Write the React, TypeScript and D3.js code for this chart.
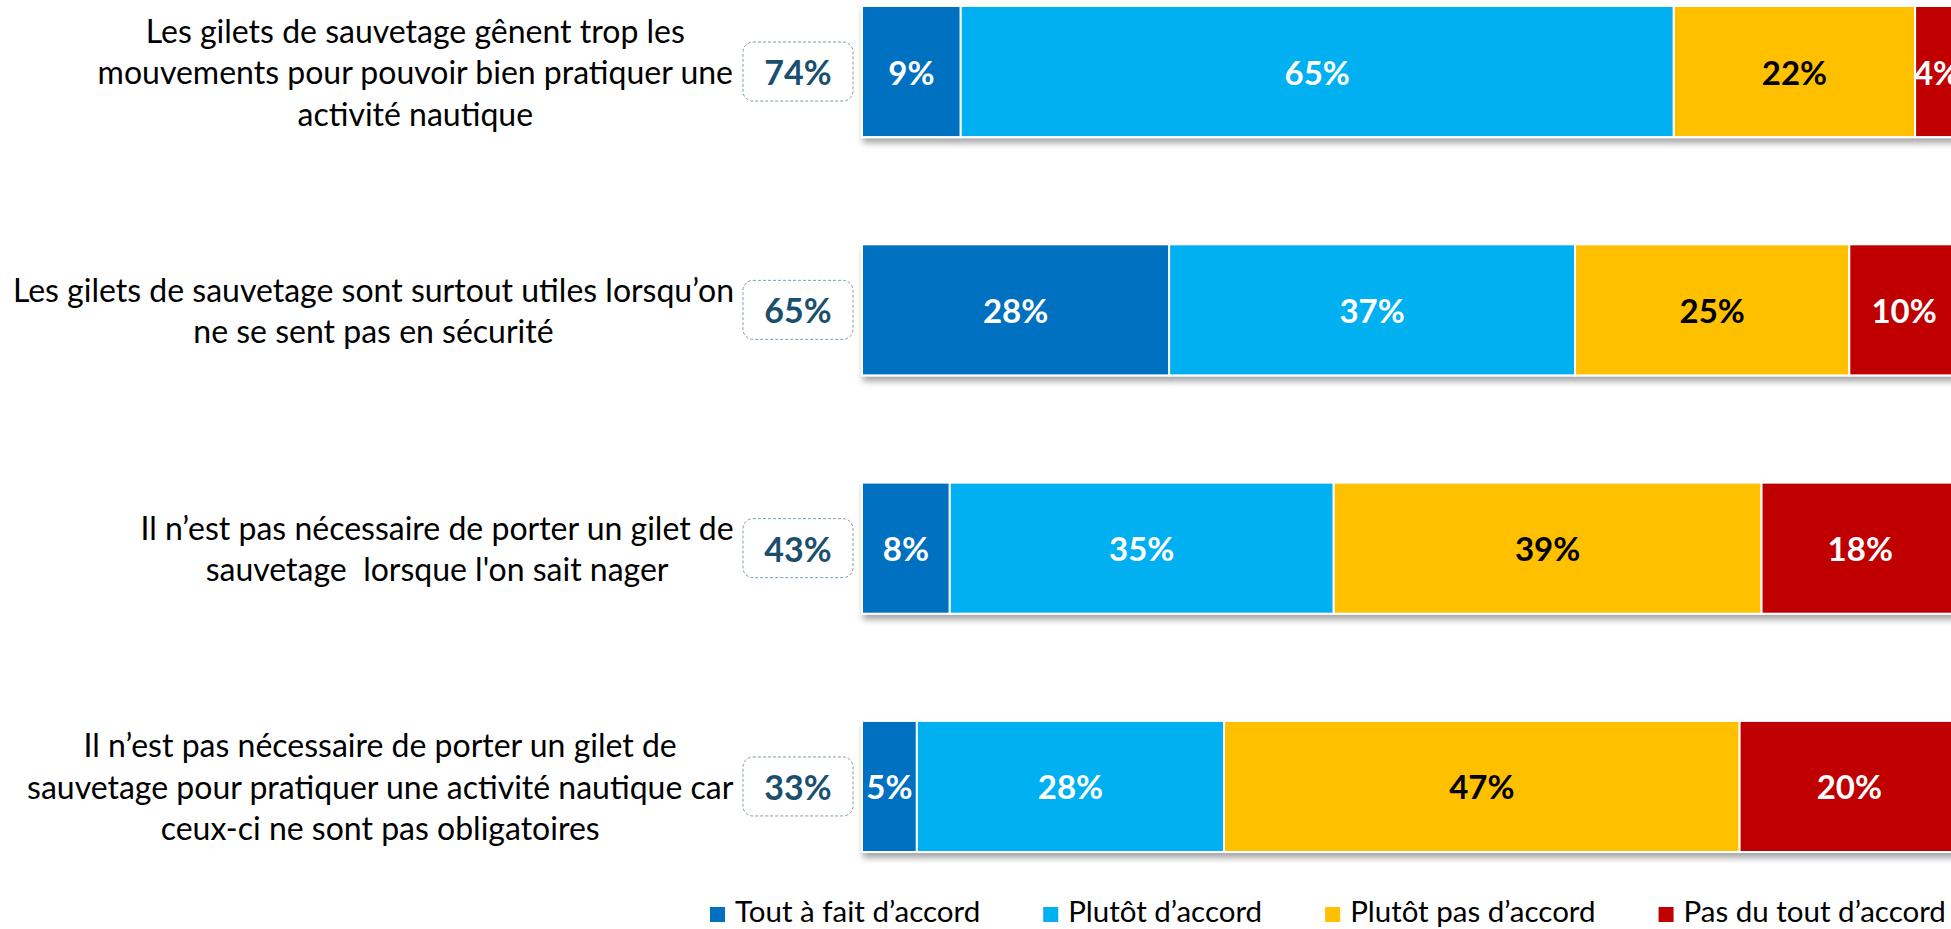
import React, { useMemo } from "react";
import * as d3 from "d3";

const questions = [
  ["Les gilets de sauvetage gênent trop les", "mouvements pour pouvoir bien pratiquer une", "activité nautique"],
  ["Les gilets de sauvetage sont surtout utiles lorsqu’on", "ne se sent pas en sécurité"],
  ["Il n’est pas nécessaire de porter un gilet de", "sauvetage  lorsque l'on sait nager"],
  ["Il n’est pas nécessaire de porter un gilet de", "sauvetage pour pratiquer une activité nautique car", "ceux-ci ne sont pas obligatoires"],
];
const series = ["Tout à fait d’accord", "Plutôt d’accord", "Plutôt pas d’accord", "Pas du tout d’accord"];
const toutAFait = [9, 28, 8, 5];
const plutot = [65, 37, 35, 28];
const plutotPas = [22, 25, 39, 47];
const pasDuTout = [4, 10, 18, 20];

const colors = ["#0070C0", "#00B0F0", "#FFC000", "#C00000"];
const labelColors = ["#FFFFFF", "#FFFFFF", "#000000", "#FFFFFF"];
const FONT = "Lato, 'Open Sans', sans-serif";

function measure(text: string, size: number, weight = "normal") {
  const c = document.createElement("canvas").getContext("2d")!;
  c.font = `${weight} ${size}px Lato`;
  return c.measureText(text).width;
}

export default function App() {
  const W = 1951, H = 929;
  const rows = questions.map((q, i) => ({
    id: i,
    lines: q,
    values: [toutAFait[i], plutot[i], plutotPas[i], pasDuTout[i]],
  }));
  const x = d3.scaleLinear().domain([0, 100]).range([862, 1959]);
  const y = d3
    .scaleBand<number>()
    .domain(rows.map((r) => r.id))
    .range([6, 852])
    .paddingInner(0.45)
    .paddingOuter(0);

  const labelSize = 32;
  const lineH = 41.5;
  const labelRight = 734;

  const legendSize = 29.5;
  const legend = useMemo(() => {
    let cx = 710;
    return series.map((s, i) => {
      const w = measure(s, legendSize);
      const item = { s, i, x: cx, w };
      cx += 15 + 10 + w + 63;
      return item;
    });
  }, []);

  return (
    <svg
      width={W}
      height={H}
      style={{ position: "absolute", left: 0, top: 0, background: "#fff" }}
      fontFamily={FONT}
    >
      <defs>
        <filter id="shadow" x="-5%" y="-10%" width="110%" height="130%">
          <feDropShadow dx="2" dy="5" stdDeviation="3" floodColor="#000" floodOpacity="0.35" />
        </filter>
      </defs>
      {rows.map((r) => {
        const y0 = y(r.id)!;
        const bh = y.bandwidth();
        const cy = y0 + bh / 2;
        const stack = d3.cumsum(r.values);
        const widths = r.lines.map((l) => measure(l, labelSize));
        const maxW = Math.max(...widths);
        const blockCx = labelRight - maxW / 2;
        const n = r.lines.length;
        const total = r.values[0] + r.values[1];
        return (
          <g key={r.id}>
            {r.lines.map((l, li) => (
              <text
                key={li}
                x={blockCx}
                y={cy + (li - (n - 1) / 2) * lineH}
                textAnchor="middle"
                dominantBaseline="central"
                fontSize={labelSize}
                fill="#000"
                style={{ whiteSpace: "pre" }}
              >
                {l}
              </text>
            ))}
            <rect
              x={743}
              y={cy - 29.5}
              width={110}
              height={59}
              rx={10}
              fill="#fff"
              stroke="#7F9CB0"
              strokeWidth={1}
              strokeDasharray="3,2"
            />
            <text
              x={798}
              y={cy}
              textAnchor="middle"
              dominantBaseline="central"
              fontSize={34}
              fontWeight="bold"
              fill="#1B4F6E"
            >
              {total}%
            </text>
            <g filter="url(#shadow)">
              {r.values.map((v, k) => {
                const xs = x(stack[k] - v);
                const xe = x(stack[k]);
                return (
                  <rect
                    key={k}
                    x={xs}
                    y={y0}
                    width={xe - xs}
                    height={bh}
                    fill={colors[k]}
                    stroke="#fff"
                    strokeWidth={2}
                  />
                );
              })}
            </g>
            {r.values.map((v, k) => {
              const xs = x(stack[k] - v);
              const xe = x(stack[k]);
              return (
                <text
                  key={k}
                  x={(xs + xe) / 2}
                  y={cy}
                  textAnchor="middle"
                  dominantBaseline="central"
                  fontSize={33}
                  fontWeight="bold"
                  fill={labelColors[k]}
                >
                  {v}%
                </text>
              );
            })}
          </g>
        );
      })}
      {legend.map((it) => (
        <g key={it.i}>
          <rect x={it.x} y={907} width={15} height={15} fill={colors[it.i]} />
          <text x={it.x + 25} y={922} fontSize={legendSize} fill="#000">
            {it.s}
          </text>
        </g>
      ))}
    </svg>
  );
}
